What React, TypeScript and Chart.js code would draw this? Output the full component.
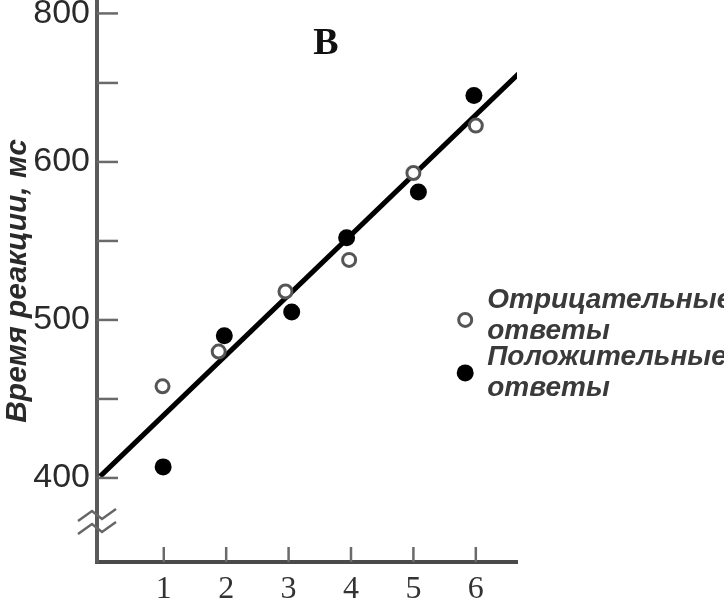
import React, { useEffect, useRef } from "react";
import { Chart, registerables } from "chart.js";

Chart.register(...registerables);

// ---- data ----
const negativeX = [0.98, 1.88, 2.95, 3.97, 5.0, 6.0];
const negativeY = [458, 480, 518, 538, 593, 623];
const positiveX = [0.99, 1.97, 3.05, 3.93, 5.08, 5.97];
const positiveY = [407, 490, 505, 552, 581, 642];
const fitX = [-0.02, 6.82];
const fitY = [401, 661];

const xTickValues = [1, 2, 3, 4, 5, 6];
const xTickLabels = ["1", "2", "3", "4", "5", "6"];
const yTickValues = [400, 450, 500, 550, 600, 650, 694];
const yTickLabels = ["400", "", "500", "", "600", "", "800"];

const legendNegative = ["Отрицательные", "ответы"];
const legendPositive = ["Положительные", "ответы"];
const panelLabel = "В";
const yAxisTitle = "Время реакции, мс";

const decorPlugin = {
  id: "decor",
  afterDraw(chart: any) {
    const ctx: CanvasRenderingContext2D = chart.ctx;
    const xs = chart.scales.x;
    const ys = chart.scales.y;
    const ca = chart.chartArea;
    ctx.save();
    // inward tick marks
    ctx.strokeStyle = "#6a6a6a";
    ctx.lineWidth = 2.5;
    yTickValues.forEach((v) => {
      const py = ys.getPixelForValue(v);
      ctx.beginPath();
      ctx.moveTo(ca.left, py);
      ctx.lineTo(ca.left + 21, py);
      ctx.stroke();
    });
    xTickValues.forEach((v) => {
      const px = xs.getPixelForValue(v);
      ctx.beginPath();
      ctx.moveTo(px, ca.bottom);
      ctx.lineTo(px, ca.bottom - 15);
      ctx.stroke();
    });
    // axis break mark
    const bx = ca.left;
    const by = ca.bottom - 40;
    ctx.strokeStyle = "#666";
    ctx.lineWidth = 2.5;
    [-6, 7].forEach((dy) => {
      ctx.beginPath();
      ctx.moveTo(bx - 19, by + dy + 5);
      ctx.lineTo(bx - 5, by + dy - 5);
      ctx.lineTo(bx + 5, by + dy + 3);
      ctx.lineTo(bx + 19, by + dy - 7);
      ctx.stroke();
    });
    // panel label
    ctx.fillStyle = "#111";
    ctx.textAlign = "center";
    ctx.textBaseline = "middle";
    ctx.font = 'bold 38px "Liberation Serif"';
    ctx.fillText(panelLabel, xs.getPixelForValue(3.6), ys.getPixelForValue(674.5));
    // legend
    const lx = xs.getPixelForValue(5.83);
    const ly1 = ys.getPixelForValue(500);
    const ly2 = ys.getPixelForValue(466.5);
    ctx.beginPath();
    ctx.arc(lx, ly1, 6.5, 0, Math.PI * 2);
    ctx.fillStyle = "#fff";
    ctx.fill();
    ctx.lineWidth = 3;
    ctx.strokeStyle = "#555";
    ctx.stroke();
    ctx.beginPath();
    ctx.arc(lx, ly2, 8.5, 0, Math.PI * 2);
    ctx.fillStyle = "#000";
    ctx.fill();
    ctx.fillStyle = "#3a3a3a";
    ctx.textAlign = "left";
    ctx.font = 'italic bold 28px "Liberation Sans"';
    const tx = lx + 22;
    ctx.fillText(legendNegative[0], tx, ly1 - 20);
    ctx.fillText(legendNegative[1], tx, ly1 + 11);
    ctx.fillText(legendPositive[0], tx, ly2 - 16);
    ctx.fillText(legendPositive[1], tx, ly2 + 15);
    ctx.restore();
  },
};

export default function App() {
  const ref = useRef<HTMLCanvasElement | null>(null);

  useEffect(() => {
    if (!ref.current) return;
    const chart = new Chart(ref.current, {
      type: "scatter",
      data: {
        datasets: [
          {
            label: "Положительные ответы",
            data: positiveX.map((x, i) => ({ x, y: positiveY[i] })),
            pointRadius: 8.5,
            pointBackgroundColor: "#000",
            pointBorderColor: "#000",
            pointBorderWidth: 0,
          },
          {
            label: "Отрицательные ответы",
            data: negativeX.map((x, i) => ({ x, y: negativeY[i] })),
            pointRadius: 6.5,
            pointBackgroundColor: "#fff",
            pointBorderColor: "#555",
            pointBorderWidth: 3,
          },
          {
            label: "fit",
            data: fitX.map((x, i) => ({ x, y: fitY[i] })),
            showLine: true,
            pointRadius: 0,
            borderColor: "#000",
            borderWidth: 5,
          },
        ],
      },
      options: {
        animation: false,
        responsive: true,
        maintainAspectRatio: false,
        layout: { autoPadding: false, padding: { left: 0, top: 0, right: 207, bottom: 0 } },
        plugins: {
          legend: { display: false },
          tooltip: { enabled: false },
          title: { display: false },
        },
        scales: {
          x: {
            type: "linear",
            min: -0.07,
            max: 6.66,
            grid: { display: false, drawTicks: false },
            border: { display: true, color: "#4a4a4a", width: 4 },
            afterBuildTicks: (scale: any) => {
              scale.ticks = xTickValues.map((v) => ({ value: v }));
            },
            afterFit: (scale: any) => {
              scale.height = 41;
              scale.paddingLeft = 0;
              scale.paddingRight = 0;
              scale.paddingTop = 0;
              scale.paddingBottom = 0;
            },
            ticks: {
              autoSkip: false,
              maxRotation: 0,
              padding: 8,
              color: "#333",
              font: { family: "Liberation Serif", size: 32 },
              callback: (v: any) => {
                const i = xTickValues.indexOf(Number(v));
                return i >= 0 ? xTickLabels[i] : "";
              },
            },
          },
          y: {
            type: "linear",
            min: 346.8,
            max: 702.5,
            grid: { display: false, drawTicks: false },
            border: { display: true, color: "#5a5a5a", width: 4 },
            afterBuildTicks: (scale: any) => {
              scale.ticks = yTickValues.map((v) => ({ value: v }));
            },
            afterFit: (scale: any) => {
              scale.width = 97;
              scale.paddingLeft = 0;
              scale.paddingRight = 0;
              scale.paddingTop = 0;
              scale.paddingBottom = 0;
            },
            title: {
              display: true,
              text: yAxisTitle,
              color: "#2a2a2a",
              padding: 0,
              font: { family: "Liberation Sans", size: 30, style: "italic", weight: "bold" },
            },
            ticks: {
              autoSkip: false,
              padding: 7,
              color: "#2a2a2a",
              font: { family: "Liberation Sans", size: 34 },
              callback: (v: any) => {
                const i = yTickValues.indexOf(Number(v));
                return i >= 0 ? yTickLabels[i] : "";
              },
            },
          },
        },
      },
      plugins: [decorPlugin],
    });
    return () => chart.destroy();
  }, []);

  return (
    <div style={{ position: "fixed", left: 0, top: 0, width: 724, height: 603, background: "#fff" }}>
      <canvas ref={ref} />
    </div>
  );
}
